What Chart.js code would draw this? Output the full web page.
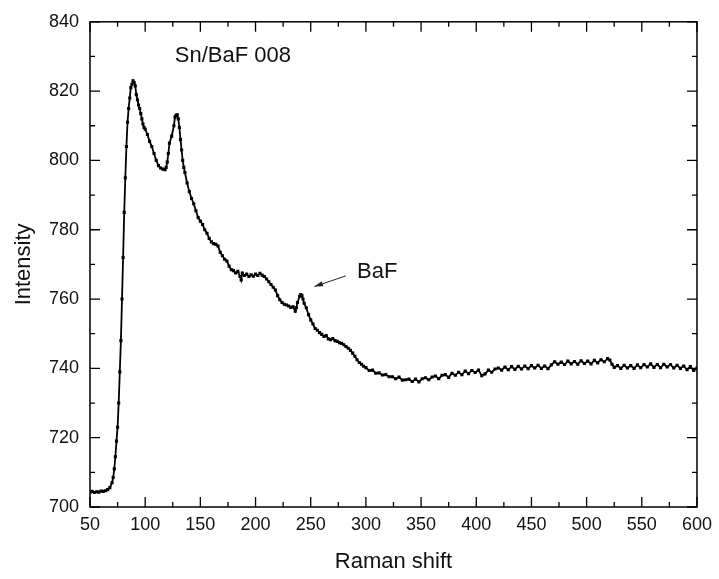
<!DOCTYPE html>
<html>
<head>
<meta charset="utf-8">
<title>Sn/BaF 008 Raman</title>
<script src="https://cdn.jsdelivr.net/npm/chart.js@4.4.1/dist/chart.umd.min.js"></script>
<style>
  html, body { margin: 0; padding: 0; background: #fff; }
  #wrap { width: 719px; height: 579px; }
</style>
</head>
<body>
<div id="wrap"><canvas id="myChart" width="719" height="579"></canvas></div>
<script>
var shift = [
  50, 52, 54, 56, 58, 60, 62, 64, 66, 68,
  70, 71, 72, 73, 74, 75, 76, 77, 78, 79,
  80, 81, 82, 83, 84, 85, 86, 87, 88, 89,
  90, 91, 92, 93, 94, 95, 96, 97, 98, 99,
  100, 102, 104, 106, 108, 110, 112, 114, 116, 118,
  119, 120, 121, 122, 124, 126, 127, 128, 129, 130,
  131, 132, 133, 134, 135, 136, 138, 140, 142, 144,
  146, 148, 150, 152, 154, 156, 158, 160, 162, 164,
  166, 168, 170, 172, 174, 176, 178, 180, 182, 184,
  186, 187, 188, 190, 192, 194, 196, 198, 200, 202,
  204, 206, 208, 210, 212, 214, 216, 218, 220, 222,
  224, 226, 228, 230, 232, 234, 236, 237, 238, 240,
  241, 242, 243, 244, 246, 248, 250, 252, 254, 256,
  258, 260, 262, 264, 266, 268, 270, 272, 274, 276,
  278, 280, 282, 284, 286, 288, 290, 292, 294, 296,
  298, 300, 303, 306, 309, 312, 315, 318, 321, 324,
  327, 330, 333, 336, 339, 342, 345, 348, 351, 354,
  357, 360, 363, 366, 369, 372, 375, 378, 381, 384,
  387, 390, 393, 396, 399, 402, 405, 408, 411, 414,
  417, 420, 423, 426, 429, 432, 435, 438, 441, 444,
  447, 450, 453, 456, 459, 462, 465, 468, 471, 474,
  477, 480, 483, 486, 489, 492, 495, 498, 501, 504,
  507, 510, 513, 516, 519, 521, 523, 525, 528, 531,
  534, 537, 540, 543, 546, 549, 552, 555, 558, 561,
  564, 567, 570, 573, 576, 579, 582, 585, 588, 591,
  594, 597, 600
];
var intensity = [
  704.3, 704.5, 704.2, 704.4, 704.3, 704.6, 704.5, 704.7, 705.0, 705.6,
  707.0, 708.5, 711.0, 714.5, 719.0, 723.0, 730.0, 739.0, 748.0, 760.0,
  772.0, 785.0, 795.0, 804.0, 811.0, 815.0, 818.0, 821.0, 822.0, 823.0,
  822.5, 821.5, 819.0, 817.5, 816.0, 815.0, 813.5, 812.0, 810.5, 809.5,
  809.0, 807.5, 805.5, 804.0, 802.0, 800.0, 798.5, 797.8, 797.5, 797.3,
  798.0, 799.5, 802.0, 805.0, 807.0, 810.0, 812.5, 813.0, 813.2, 812.0,
  809.5, 806.0, 803.0, 800.0, 798.0, 796.5, 793.5, 791.0, 789.0, 787.5,
  785.5, 783.5, 782.5, 781.5, 780.0, 779.0, 777.5, 776.5, 776.0, 775.8,
  775.3, 773.5, 772.5, 771.5, 771.0, 769.5, 768.5, 768.2, 767.5, 768.0,
  766.5, 765.5, 767.5, 766.8, 767.2, 766.5, 767.0, 766.6, 767.2, 766.8,
  767.4, 766.9, 766.5, 765.8, 765.0, 764.2, 763.4, 762.6, 761.0, 759.8,
  759.0, 758.5, 758.3, 758.0, 757.6, 757.8, 756.5, 757.5, 759.0, 760.8,
  761.3, 761.0, 760.0, 758.8, 757.5, 755.5, 754.0, 752.8, 751.5, 751.0,
  750.3, 749.8, 749.2, 749.5, 748.5, 748.3, 748.6, 748.0, 747.8, 747.4,
  747.2, 746.8, 746.3, 745.8, 745.2, 744.4, 743.5, 742.5, 741.7, 741.2,
  740.6, 740.2, 739.4, 739.5, 738.6, 738.7, 738.1, 738.2, 737.6, 737.6,
  737.0, 737.5, 736.6, 736.7, 736.9, 736.2, 736.9, 736.1, 737.0, 737.3,
  736.7, 737.5, 737.8, 737.0, 738.0, 738.2, 737.4, 738.6, 738.0, 738.9,
  738.2, 739.2, 738.5, 739.4, 738.8, 739.5, 737.9, 738.4, 739.5, 738.9,
  739.8, 740.1, 739.5, 740.4, 739.6, 740.5, 739.7, 740.6, 739.8, 740.7,
  739.9, 740.8, 740.1, 740.9, 740.0, 740.7, 739.9, 741.0, 741.9, 741.2,
  741.8, 741.1, 742.1, 741.3, 742.0, 741.2, 742.2, 741.4, 742.1, 741.3,
  742.3, 741.6, 742.5, 741.9, 742.8, 742.4, 741.2, 740.3, 740.8, 740.0,
  740.9, 740.1, 740.8, 740.0, 741.0, 740.2, 741.1, 740.4, 741.3, 740.3,
  741.1, 740.2, 741.2, 740.4, 741.1, 740.1, 740.9, 740.0, 740.7, 739.6,
  740.5, 739.4, 740.1
];

var xTicks = [50, 100, 150, 200, 250, 300, 350, 400, 450, 500, 550, 600];
var yTicks = [700, 720, 740, 760, 780, 800, 820, 840];

// annotation anchors in data units
var sampleLabel = { text: 'Sn/BaF 008', x: 126.8, y: 828.3 };
var peakLabel = { text: 'BaF', x: 292, y: 766.0 };
var peakArrow = { x1: 281.9, y1: 766.7, x2: 253.3, y2: 763.6 };

var FONT = '"Liberation Sans", Arial, Helvetica, sans-serif';

var points = shift.map(function (x, i) { return { x: x, y: intensity[i] }; });

// frame with inward major/minor ticks on all four sides + text annotations
var framePlugin = {
  id: 'frame',
  afterDraw: function (chart) {
    var c = chart.ctx, a = chart.chartArea;
    var xs = chart.scales.x, ys = chart.scales.y;
    c.save();
    c.strokeStyle = '#000';
    c.lineWidth = 1.5;
    c.strokeRect(a.left, a.top, a.right - a.left, a.bottom - a.top);

    c.beginPath();
    for (var i = 0; i < xTicks.length; i++) {
      var px = xs.getPixelForValue(xTicks[i]);
      c.moveTo(px, a.bottom); c.lineTo(px, a.bottom - 10);
      c.moveTo(px, a.top); c.lineTo(px, a.top + 10);
      if (i < xTicks.length - 1) {
        var mx = xs.getPixelForValue((xTicks[i] + xTicks[i + 1]) / 2);
        c.moveTo(mx, a.bottom); c.lineTo(mx, a.bottom - 5);
        c.moveTo(mx, a.top); c.lineTo(mx, a.top + 5);
      }
    }
    for (var j = 0; j < yTicks.length; j++) {
      var py = ys.getPixelForValue(yTicks[j]);
      c.moveTo(a.left, py); c.lineTo(a.left + 10, py);
      c.moveTo(a.right, py); c.lineTo(a.right - 10, py);
      if (j < yTicks.length - 1) {
        var my = ys.getPixelForValue((yTicks[j] + yTicks[j + 1]) / 2);
        c.moveTo(a.left, my); c.lineTo(a.left + 5, my);
        c.moveTo(a.right, my); c.lineTo(a.right - 5, my);
      }
    }
    c.lineWidth = 1.3;
    c.stroke();

    c.fillStyle = '#111';
    c.textBaseline = 'alphabetic';
    c.textAlign = 'left';
    c.font = '22px ' + FONT;
    c.fillText(sampleLabel.text, xs.getPixelForValue(sampleLabel.x), ys.getPixelForValue(sampleLabel.y));
    c.fillText(peakLabel.text, xs.getPixelForValue(peakLabel.x), ys.getPixelForValue(peakLabel.y));

    // arrow pointing at the BaF feature
    var ax1 = xs.getPixelForValue(peakArrow.x1), ay1 = ys.getPixelForValue(peakArrow.y1);
    var ax2 = xs.getPixelForValue(peakArrow.x2), ay2 = ys.getPixelForValue(peakArrow.y2);
    c.strokeStyle = '#222';
    c.lineWidth = 1;
    c.beginPath(); c.moveTo(ax1, ay1); c.lineTo(ax2, ay2); c.stroke();
    var ang = Math.atan2(ay2 - ay1, ax2 - ax1);
    c.beginPath();
    c.moveTo(ax2, ay2);
    c.lineTo(ax2 - 9 * Math.cos(ang - 0.3), ay2 - 9 * Math.sin(ang - 0.3));
    c.lineTo(ax2 - 9 * Math.cos(ang + 0.3), ay2 - 9 * Math.sin(ang + 0.3));
    c.closePath();
    c.fillStyle = '#222';
    c.fill();
    c.restore();
  }
};

var ctx = document.getElementById('myChart').getContext('2d');

var myChart = new Chart(ctx, {
  type: 'line',
  data: {
    datasets: [{
      data: points,
      borderColor: '#000',
      backgroundColor: '#000',
      borderWidth: 1.8,
      pointStyle: 'rect',
      pointRadius: 2.2,
      pointBorderWidth: 0,
      tension: 0,
      fill: false
    }]
  },
  options: {
    responsive: false,
    animation: false,
    layout: { padding: { top: 15, right: 20, bottom: 0, left: 0 } },
    plugins: {
      legend: { display: false },
      tooltip: { enabled: false }
    },
    scales: {
      x: {
        type: 'linear',
        min: 50,
        max: 600,
        afterBuildTicks: function (s) { s.ticks = xTicks.map(function (v) { return { value: v }; }); },
        afterFit: function (s) { s.height = 72; },
        grid: { display: false, drawTicks: false },
        border: { display: false },
        ticks: {
          padding: 7,
          color: '#111',
          font: { family: FONT, size: 18 },
          maxRotation: 0
        },
        title: {
          display: true,
          text: 'Raman shift',
          color: '#111',
          font: { family: FONT, size: 22 },
          padding: { top: 0, bottom: 4 }
        }
      },
      y: {
        min: 700,
        max: 840,
        afterBuildTicks: function (s) { s.ticks = yTicks.map(function (v) { return { value: v }; }); },
        afterFit: function (s) { s.width = 90; },
        grid: { display: false, drawTicks: false },
        border: { display: false },
        ticks: {
          padding: 11,
          color: '#111',
          font: { family: FONT, size: 18 }
        },
        title: {
          display: true,
          text: 'Intensity',
          color: '#111',
          font: { family: FONT, size: 22 },
          padding: { top: 11, bottom: 0 }
        }
      }
    }
  },
  plugins: [framePlugin]
});
</script>
</body>
</html>
